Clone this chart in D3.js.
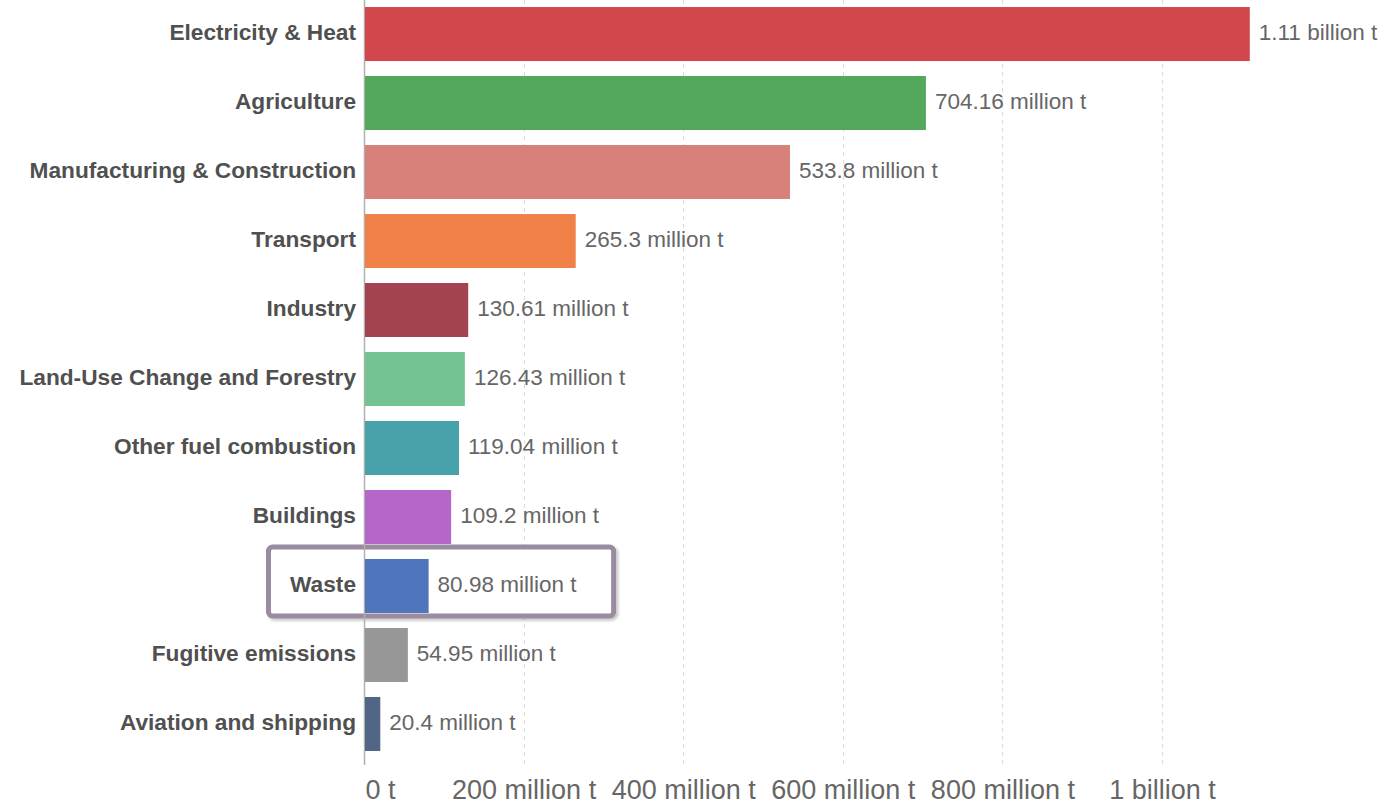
<!DOCTYPE html>
<html>
<head>
<meta charset="utf-8">
<script src="https://cdn.jsdelivr.net/npm/d3@7"></script>
<style>
  html, body { margin: 0; padding: 0; background: #fff; }
  svg { display: block; font-family: "Liberation Sans", Arial, sans-serif; }
</style>
</head>
<body>
<svg id="chart" width="1389" height="805"></svg>
<script>
// Greenhouse gas emissions by sector (million tonnes)
const sectors = [
  "Electricity & Heat", "Agriculture", "Manufacturing & Construction", "Transport",
  "Industry", "Land-Use Change and Forestry", "Other fuel combustion", "Buildings",
  "Waste", "Fugitive emissions", "Aviation and shipping"
];
const emissions = [1110, 704.16, 533.8, 265.3, 130.61, 126.43, 119.04, 109.2, 80.98, 54.95, 20.4];
const valueLabels = [
  "1.11 billion t", "704.16 million t", "533.8 million t", "265.3 million t",
  "130.61 million t", "126.43 million t", "119.04 million t", "109.2 million t",
  "80.98 million t", "54.95 million t", "20.4 million t"
];
const barColors = [
  "#d2474b", "#53a85b", "#d8817b", "#ef8149", "#a3434f", "#74c392",
  "#47a2aa", "#b467c8", "#4f76bc", "#979797", "#506684"
];
const tickValues = [0, 200, 400, 600, 800, 1000];
const tickLabels = ["0 t", "200 million t", "400 million t", "600 million t", "800 million t", "1 billion t"];
const highlighted = "Waste";

const svg = d3.select("#chart");
const plotBottom = 765;

const x = d3.scaleLinear().domain([0, 1000]).range([364, 1162]);
const y = d3.scaleBand().domain(sectors).range([0, 758]).paddingInner(0.2174).paddingOuter(0.1017);

const rows = sectors.map((s, i) => ({ sector: s, value: emissions[i], label: valueLabels[i], color: barColors[i] }));

// dashed vertical gridlines
svg.append("g").selectAll("line")
  .data(tickValues.slice(1))
  .join("line")
  .attr("x1", d => Math.round(x(d)) + 0.5).attr("x2", d => Math.round(x(d)) + 0.5)
  .attr("y1", 0).attr("y2", plotBottom)
  .attr("stroke", "#dcdcdc").attr("stroke-width", 1.2).attr("stroke-dasharray", "4,4");

// highlight frame around the selected sector
const defs = svg.append("defs");
const shadow = defs.append("filter").attr("id", "frameShadow")
  .attr("x", "-10%").attr("y", "-20%").attr("width", "120%").attr("height", "140%");
shadow.append("feDropShadow").attr("dx", 2).attr("dy", 2).attr("stdDeviation", 1.5)
  .attr("flood-color", "#000").attr("flood-opacity", 0.25);

const hi = rows.find(r => r.sector === highlighted);
svg.append("rect")
  .attr("x", x(0) - 95.5)
  .attr("y", y(hi.sector) - 12)
  .attr("width", (x(hi.value) + 185) - (x(0) - 95.5))
  .attr("height", y.bandwidth() + 15)
  .attr("rx", 4)
  .attr("fill", "#fff")
  .attr("stroke", "#9a8ba0")
  .attr("stroke-width", 5)
  .attr("filter", "url(#frameShadow)");

// axis line
svg.append("line")
  .attr("x1", x(0) + 0.5).attr("x2", x(0) + 0.5)
  .attr("y1", 0).attr("y2", plotBottom)
  .attr("stroke", "#b0b0b0").attr("stroke-width", 1.5);

// bars
svg.append("g").selectAll("rect")
  .data(rows)
  .join("rect")
  .attr("x", x(0) + 1)
  .attr("y", d => y(d.sector))
  .attr("width", d => x(d.value) - x(0) - 1)
  .attr("height", y.bandwidth())
  .attr("fill", d => d.color);

// category labels
svg.append("g").selectAll("text")
  .data(rows)
  .join("text")
  .attr("x", x(0) - 8)
  .attr("y", d => y(d.sector) + y.bandwidth() / 2 - 2)
  .attr("dy", "0.35em")
  .attr("text-anchor", "end")
  .attr("font-size", 22.7)
  .attr("font-weight", "bold")
  .attr("fill", "#505050")
  .text(d => d.sector);

// value labels
svg.append("g").selectAll("text")
  .data(rows)
  .join("text")
  .attr("x", d => x(d.value) + 9)
  .attr("y", d => y(d.sector) + y.bandwidth() / 2 - 2)
  .attr("dy", "0.35em")
  .attr("font-size", 22.5)
  .attr("fill", "#666")
  .text(d => d.label);

// x axis tick labels
const xAxis = d3.axisBottom(x)
  .tickValues(tickValues)
  .tickFormat((d, i) => tickLabels[i])
  .tickSize(0)
  .tickPadding(0);
const axisG = svg.append("g").attr("transform", `translate(0, ${plotBottom})`).call(xAxis);
axisG.select(".domain").remove();
axisG.selectAll("text")
  .attr("y", 33.5)
  .attr("dy", 0)
  .attr("font-size", 27)
  .attr("font-family", "'Liberation Sans', Arial, sans-serif")
  .attr("fill", "#666")
  .attr("text-anchor", (d, i) => i === 0 ? "start" : "middle")
  .attr("x", (d, i) => i === 0 ? 1 : 0);
</script>
</body>
</html>
